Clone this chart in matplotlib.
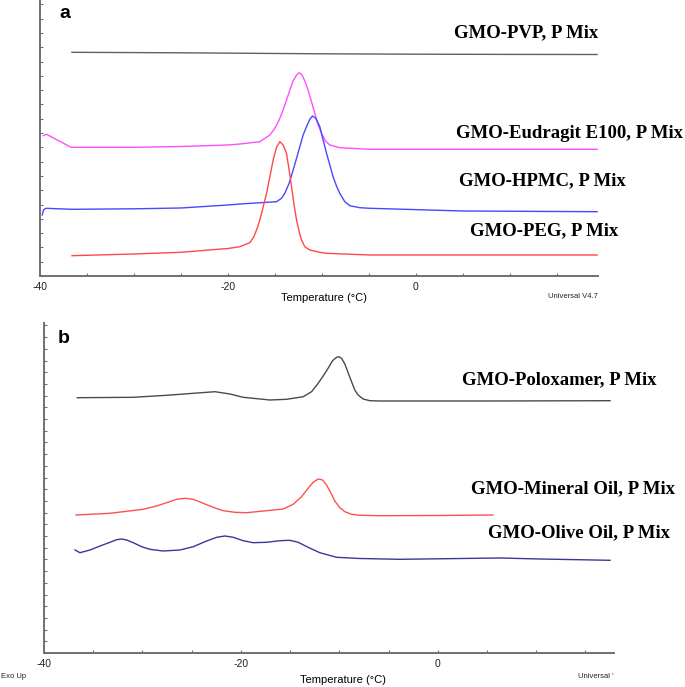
import matplotlib
matplotlib.use("Agg")
import matplotlib.pyplot as plt
from matplotlib.ticker import MultipleLocator, FixedLocator

# ---------------- data (temperature °C, heat flow arbitrary units, exo up) -------------
# Panel a
pvp_T = [-36.6, -25, -10, 0, 10, 19.3]
pvp_h = [22.37, 22.32, 22.22, 22.18, 22.16, 22.15]

eud_T = [-39.65, -39.3, -36.7, -30, -25, -20, -18.72, -16.6, -15.53, -15.0, -14.54, -14.12,
         -13.76, -13.4, -13.05, -12.69, -12.41, -12.1, -11.78, -11.46, -11.1, -10.74,
         -10.39, -10.03, -9.61, -9.15, -8.09, -4.89, 5, 19.3]
eud_h = [14.03, 14.17, 12.87, 12.87, 12.95, 13.1, 13.2, 13.43, 14.1, 14.77, 15.6, 16.6,
         17.6, 18.6, 19.53, 20.1, 20.33, 20.1, 19.43, 18.6, 17.43, 16.27,
         15.1, 14.27, 13.5, 13.1, 12.83, 12.67, 12.67, 12.67]

hpmc_T = [-39.76, -39.63, -39.36, -36.6, -30, -25, -20, -18.72, -14.82, -14.29, -13.94,
          -13.48, -13.05, -12.69, -12.34, -11.99, -11.63, -11.28, -10.99, -10.64, -10.21,
          -9.86, -9.5, -9.15, -8.8, -8.44, -8.09, -7.55, -7.02, -5.96, -4.89, 5, 19.3]
hpmc_h = [6.1, 6.6, 6.77, 6.67, 6.72, 6.8, 7.1, 7.2, 7.43, 7.77, 8.27,
          9.27, 10.6, 11.77, 12.93, 14.1, 14.93, 15.67, 16.0, 15.77, 14.93,
          13.6, 12.27, 11.1, 9.93, 9.0, 8.27, 7.43, 7.03, 6.83, 6.77, 6.5, 6.43]

peg_T = [-36.6, -30, -25, -22, -20, -18.72, -17.66, -17.23, -16.88, -16.6, -16.24, -15.88,
         -15.53, -15.18, -14.82, -14.47, -14.12, -13.76, -13.48, -13.22, -12.98, -12.69,
         -12.41, -12.16, -11.81, -11.28, -10.21, -9.5, -4.89, 0, 10, 19.3]
peg_h = [2.03, 2.2, 2.37, 2.6, 2.75, 2.93, 3.33, 3.93, 4.77, 5.6, 6.93, 8.27,
         9.93, 11.6, 12.87, 13.43, 13.1, 12.27, 10.6, 8.93, 7.27, 5.6,
         4.43, 3.6, 2.93, 2.6, 2.37, 2.27, 2.1, 2.1, 2.1, 2.1]

# Panel b
polox_T = [-36.62, -30.93, -27.54, -24.84, -22.64, -21.12, -19.77, -17.74, -17.06, -15.36,
           -13.67, -12.82, -12.15, -11.64, -11.14, -10.69, -10.28, -10.05, -9.78, -9.44,
           -9.11, -8.76, -8.43, -8.09, -7.58, -6.9, -5.89, 5, 17.5]
polox_h = [25.53, 25.57, 25.77, 25.97, 26.13, 25.9, 25.57, 25.37, 25.3, 25.37,
           25.63, 26.13, 26.97, 27.7, 28.47, 29.23, 29.57, 29.63, 29.47, 28.9,
           28.03, 27.13, 26.3, 25.8, 25.4, 25.23, 25.2, 25.2, 25.23]

min_T = [-36.75, -33.3, -29.92, -28.56, -27.54, -26.53, -25.69, -24.84, -23.83, -22.81,
         -21.8, -20.61, -19.42, -17.39, -15.7, -14.69, -13.84, -13.17, -12.66, -12.15,
         -11.71, -11.3, -10.89, -10.46, -9.95, -9.44, -8.76, -7.92, -5.89, 0, 5.6]
min_h = [13.8, 13.97, 14.37, 14.7, 15.03, 15.37, 15.47, 15.37, 14.97, 14.57,
         14.23, 14.07, 14.03, 14.23, 14.4, 14.87, 15.63, 16.47, 17.07, 17.4,
         17.3, 16.8, 16.07, 15.2, 14.53, 14.13, 13.87, 13.77, 13.73, 13.75, 13.8]

olive_T = [-36.85, -36.35, -35.33, -34.31, -33.3, -32.62, -32.11, -31.6, -30.93, -30.08,
           -29.24, -27.89, -26.19, -24.84, -23.48, -22.46, -21.62, -20.78, -19.77, -18.75,
           -17.39, -16.04, -15.03, -14.18, -13.17, -11.98, -10.28, -7.9, -3.86, 6.3, 10.4,
           17.5]
olive_h = [10.3, 10.03, 10.3, 10.7, 11.07, 11.33, 11.4, 11.3, 11.03, 10.63,
           10.37, 10.2, 10.3, 10.63, 11.2, 11.57, 11.7, 11.57, 11.23, 11.03,
           11.07, 11.23, 11.27, 11.07, 10.57, 10.03, 9.57, 9.45, 9.37, 9.5, 9.4,
           9.27]

labels_a = ["GMO-PVP, P Mix", "GMO-Eudragit E100, P Mix", "GMO-HPMC, P Mix", "GMO-PEG, P Mix"]
labels_b = ["GMO-Poloxamer, P Mix", "GMO-Mineral Oil, P Mix", "GMO-Olive Oil, P Mix"]
xticks = [-40, -20, 0]
xtick_labels = ["-40", "-20", "0"]

# ---------------- figure -------------
W, H = 685, 687
fig = plt.figure(figsize=(W / 100, H / 100), dpi=100)

def fx(px):
    return px / W

def fy(py):
    return 1 - py / H

spine_col = "#707070"

def style_axes(ax, xmax, ymax, ystep):
    ax.set_xlim(-40, xmax)
    ax.set_ylim(0, ymax)
    for s in ("top", "right"):
        ax.spines[s].set_visible(False)
    for s in ("left", "bottom"):
        ax.spines[s].set_color(spine_col)
        ax.spines[s].set_linewidth(1.4)
    ax.xaxis.set_major_locator(FixedLocator(xticks))
    ax.set_xticklabels(xtick_labels, fontsize=7.5, family="Liberation Sans", color="#222222")
    ax.xaxis.set_minor_locator(MultipleLocator(5))
    ax.yaxis.set_major_locator(MultipleLocator(ystep))
    ax.set_yticklabels([])
    ax.tick_params(axis="x", which="both", direction="in", length=2.5, width=0.8,
                   color=spine_col, pad=4)
    ax.tick_params(axis="y", which="both", direction="in", length=2.5, width=0.8,
                   color=spine_col, labelleft=False)
    ax.patch.set_alpha(0)

lw = 1.0

# Panel a
axa = fig.add_axes([fx(40), fy(276), fx(598) - fx(40), fy(1) - fy(276)])
style_axes(axa, 19.4, 27.5, 1.43)
axa.plot(pvp_T, pvp_h, color="#606060", lw=lw)
axa.plot(eud_T, eud_h, color="#ff4dff", lw=lw)
axa.plot(hpmc_T, hpmc_h, color="#4848ff", lw=lw)
axa.plot(peg_T, peg_h, color="#ff4848", lw=lw)

# Panel b
axb = fig.add_axes([fx(44), fy(653), fx(614) - fx(44), fy(323) - fy(653)])
style_axes(axb, 17.9, 33.0, 1.17)
axb.plot(polox_T, polox_h, color="#4a4a4a", lw=lw)
axb.plot(min_T, min_h, color="#ff5050", lw=lw)
axb.plot(olive_T, olive_h, color="#38389a", lw=lw)

# Panel letters
fig.text(fx(59), fy(13), "a", fontsize=14, fontweight="bold", family="Liberation Sans",
         va="center", ha="left")
fig.text(fx(58), fy(339), "b", fontsize=14, fontweight="bold", family="Liberation Sans",
         va="center", ha="left")

# Axis labels & instrument text
fig.text(fx(324), fy(298), "Temperature (°C)", fontsize=8, family="Liberation Sans",
         ha="center", va="center")
fig.text(fx(343), fy(680), "Temperature (°C)", fontsize=8, family="Liberation Sans",
         ha="center", va="center")
fig.text(fx(598), fy(296), "Universal V4.7", fontsize=5.5, family="Liberation Sans",
         ha="right", va="center", color="#222222")
fig.text(fx(614), fy(677), "Universal '", fontsize=5.5, family="Liberation Sans",
         ha="right", va="center", color="#222222")
fig.text(fx(1), fy(677), "Exo Up", fontsize=5.5, family="Liberation Sans",
         ha="left", va="center", color="#222222")

# Curve labels
lab_kw = dict(fontsize=13.5, fontweight="bold", family="Liberation Serif",
              ha="right", va="center", color="black")
pos_a = [(598, 33), (683, 133), (626, 181), (618, 231)]
for (x, y), t in zip(pos_a, labels_a):
    fig.text(fx(x), fy(y), t, **lab_kw)
pos_b = [(657, 380), (675, 489), (670, 533)]
for (x, y), t in zip(pos_b, labels_b):
    fig.text(fx(x), fy(y), t, **lab_kw)

fig.savefig("out.png", dpi=100, facecolor="white")
